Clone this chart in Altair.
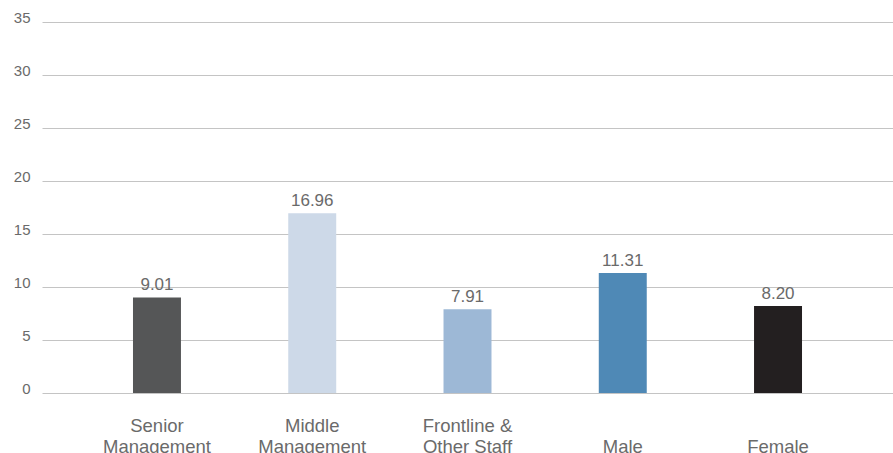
import altair as alt
import pandas as pd

# Average training hours by staff group and gender
categories = ["Senior\nManagement", "Middle\nManagement", "Frontline &\nOther Staff", "Male", "Female"]
values = [9.01, 16.96, 7.91, 11.31, 8.20]
bar_colors = ["#555657", "#cdd9e8", "#9db8d6", "#4f89b6", "#231f20"]
y_ticks = [0, 5, 10, 15, 20, 25, 30, 35]

df = pd.DataFrame({"group": categories, "hours": values})

FONT = "Liberation Sans"
TEXT_COLOR = "#6a6a6a"

# Single-line labels sit on the second line so all labels share a bottom edge
label_expr = (
    "indexof(datum.label, '\\n') < 0 ? ['', datum.label] : split(datum.label, '\\n')"
)

x_enc = alt.X(
    "group:N",
    sort=None,
    scale=alt.Scale(paddingInner=0.691, paddingOuter=0.586),
    axis=alt.Axis(
        title=None,
        domain=False,
        ticks=False,
        labelAngle=0,
        labelExpr=label_expr,
        labelBaseline="alphabetic",
        labelPadding=38,
        labelLineHeight=21,
        labelFontSize=18.5,
        labelFont=FONT,
        labelColor=TEXT_COLOR,
        labelLimit=300,
        labelOverlap=False,
    ),
)

y_enc = alt.Y(
    "hours:Q",
    scale=alt.Scale(domain=[0, 35], nice=False),
    axis=alt.Axis(
        title=None,
        values=y_ticks,
        domain=False,
        ticks=False,
        labelPadding=12,
        labelBaseline="alphabetic",
        labelFontSize=15,
        labelFont=FONT,
        labelColor=TEXT_COLOR,
        gridColor="#c4c4c4",
        gridWidth=1,
    ),
)

bars = alt.Chart(df).mark_bar().encode(
    x=x_enc,
    y=y_enc,
    color=alt.Color("group:N", sort=None, scale=alt.Scale(domain=categories, range=bar_colors), legend=None),
)

labels = alt.Chart(df).mark_text(
    baseline="alphabetic",
    dy=-7,
    fontSize=17,
    font=FONT,
    color=TEXT_COLOR,
).encode(
    x=alt.X("group:N", sort=None),
    y=alt.Y("hours:Q"),
    text=alt.Text("hours:Q", format=".2f"),
)

chart = (
    alt.layer(bars, labels)
    .properties(
        width=851,
        height=371,
        autosize=alt.AutoSizeParams(type="none"),
        padding={"left": 42, "top": 22, "right": 0, "bottom": 60},
        background="white",
    )
    .configure_view(stroke=None)
)

chart.save("out.html", embed_options={"renderer": "svg", "actions": False})
